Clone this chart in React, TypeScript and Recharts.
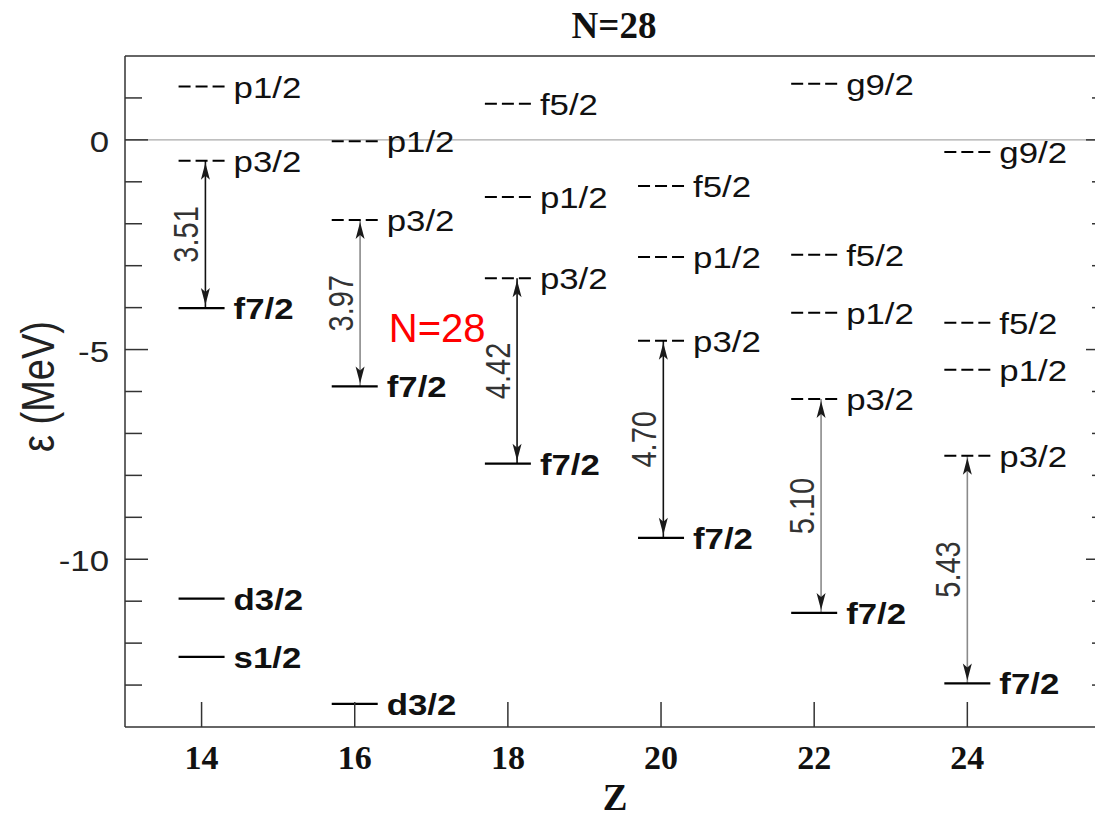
import React from "react";
import { ComposedChart, XAxis, YAxis, Scatter, ReferenceLine } from "recharts";

// single-particle neutron levels along N=28 (MeV)
const zTicks = [14, 16, 18, 20, 22, 24];
const energyTicks = [-13, -12, -11, -10, -9, -8, -7, -6, -5, -4, -3, -2, -1, 0, 1];

const z14Levels = [
  { orbit: "p1/2", e: 1.27 },
  { orbit: "p3/2", e: -0.5 },
  { orbit: "f7/2", e: -4.01 },
  { orbit: "d3/2", e: -10.94 },
  { orbit: "s1/2", e: -12.33 },
];
const z16Levels = [
  { orbit: "p1/2", e: -0.03 },
  { orbit: "p3/2", e: -1.91 },
  { orbit: "f7/2", e: -5.88 },
  { orbit: "d3/2", e: -13.45 },
];
const z18Levels = [
  { orbit: "f5/2", e: 0.86 },
  { orbit: "p1/2", e: -1.36 },
  { orbit: "p3/2", e: -3.3 },
  { orbit: "f7/2", e: -7.72 },
];
const z20Levels = [
  { orbit: "f5/2", e: -1.1 },
  { orbit: "p1/2", e: -2.79 },
  { orbit: "p3/2", e: -4.79 },
  { orbit: "f7/2", e: -9.49 },
];
const z22Levels = [
  { orbit: "g9/2", e: 1.34 },
  { orbit: "f5/2", e: -2.74 },
  { orbit: "p1/2", e: -4.12 },
  { orbit: "p3/2", e: -6.18 },
  { orbit: "f7/2", e: -11.28 },
];
const z24Levels = [
  { orbit: "g9/2", e: -0.29 },
  { orbit: "f5/2", e: -4.36 },
  { orbit: "p1/2", e: -5.48 },
  { orbit: "p3/2", e: -7.53 },
  { orbit: "f7/2", e: -12.96 },
];
const occupiedOrbits = ["f7/2", "d3/2", "s1/2"];

// p3/2 - f7/2 gaps
const gapValues = [3.51, 3.97, 4.42, 4.7, 5.1, 5.43];
const gapArrowZ = [14.05, 16.07, 18.12, 20.03, 22.09, 24.0];
const gapArrowColors = ["#111", "#8a8a8a", "#111", "#111", "#8a8a8a", "#8a8a8a"];

const annotations = [{ x: 16.445, y: -4.49, text: "N=28" }];

const nuclei = [
  { z: 14, levels: z14Levels },
  { z: 16, levels: z16Levels },
  { z: 18, levels: z18Levels },
  { z: 20, levels: z20Levels },
  { z: 22, levels: z22Levels },
  { z: 24, levels: z24Levels },
];

const levelData = nuclei.flatMap((n) =>
  n.levels.map((l) => ({ x: n.z, y: l.e, orbit: l.orbit, solid: occupiedOrbits.includes(l.orbit) }))
);

const gapData = nuclei.map((n, i) => ({
  x: gapArrowZ[i],
  top: n.levels.find((l) => l.orbit === "p3/2")!.e,
  bottom: n.levels.find((l) => l.orbit === "f7/2")!.e,
  value: gapValues[i],
  color: gapArrowColors[i],
}));
const headData = gapData.flatMap((g) => [
  { x: g.x, y: g.top, dir: "up" },
  { x: g.x, y: g.bottom, dir: "down" },
]);
const gapLabelData = gapData.map((g) => ({ x: g.x, y: (g.top + g.bottom) / 2, text: g.value.toFixed(2) }));

const SANS = "'Liberation Sans', Arial, sans-serif";
const SERIF = "'Liberation Serif', 'Times New Roman', serif";
const AXIS = "#333";
const SX = 1.2; // the source figure is stretched horizontally

function LevelMark(p: any) {
  const { cx, cy, payload } = p;
  const solid = payload.solid;
  return (
    <g>
      <line
        x1={cx - 23}
        x2={cx + 23}
        y1={cy}
        y2={cy}
        stroke="#000"
        strokeWidth={solid ? 2.2 : 2}
        strokeDasharray={solid ? undefined : "12 5"}
      />
      <text
        transform={`translate(${cx + 32},${cy + 11}) scale(${SX},1)`}
        fontFamily={SANS}
        fontSize={29}
        fontWeight={solid ? 700 : 400}
        fill="#111"
      >
        {payload.orbit}
      </text>
    </g>
  );
}

function ArrowHead(p: any) {
  const { cx, cy, payload } = p;
  const up = payload.dir === "up";
  const tip = up ? cy + 2 : cy - 3;
  const s = up ? 1 : -1;
  const d = `M${cx},${tip} L${cx - 4.5},${tip + s * 17} L${cx},${tip + s * 13} L${cx + 4.5},${tip + s * 17} Z`;
  return <path d={d} fill="#1a1a1a" />;
}

function GapLabel(p: any) {
  const { cx, cy, payload } = p;
  return (
    <text
      transform={`translate(${cx - 20},${cy}) scale(${SX},1) rotate(-90)`}
      textAnchor="middle"
      dy="0.36em"
      fontFamily={SANS}
      fontSize={29}
      fill="#333"
    >
      {payload.text}
    </text>
  );
}

function NoteText(p: any) {
  const { cx, cy, payload } = p;
  return (
    <text x={cx} y={cy + 14} fontFamily={SANS} fontSize={40} fill="#ff0000">
      {payload.text}
    </text>
  );
}

function ZTick(p: any) {
  const { x, y, payload } = p;
  return (
    <g>
      <line x1={x} x2={x} y1={y} y2={y - 25} stroke={AXIS} strokeWidth={1.5} />
      <text x={x} y={y + 42} textAnchor="middle" fontFamily={SERIF} fontWeight={700} fontSize={34} fill="#111">
        {payload.value}
      </text>
    </g>
  );
}

function ETick(p: any) {
  const { x, y, payload } = p;
  const v = payload.value;
  const major = v % 5 === 0;
  return (
    <g>
      <line x1={x} x2={x + (major ? 23 : 17)} y1={y} y2={y} stroke={AXIS} strokeWidth={1.5} />
      {major && (
        <text
          transform={`translate(${x - 16},${y + 12}) scale(${SX},1)`}
          textAnchor="end"
          fontFamily={SANS}
          fontSize={29}
          fill="#222"
        >
          {String(v)}
        </text>
      )}
    </g>
  );
}

function RightTick(p: any) {
  const { x, y, payload } = p;
  const major = payload.value % 5 === 0;
  return <line x1={x} x2={x - (major ? 23 : 17)} y1={y} y2={y} stroke={AXIS} strokeWidth={1.5} />;
}

function TitleLabel(p: any) {
  const vb = p.viewBox || { x: 125, y: 0, width: 984, height: 56 };
  return (
    <text x={vb.x + vb.width / 2 - 3} y={38} textAnchor="middle" fontFamily={SERIF} fontWeight={700} fontSize={37} fill="#111">
      N=28
    </text>
  );
}

function ZLabel(p: any) {
  const vb = p.viewBox || { x: 125, y: 727, width: 984, height: 91 };
  return (
    <text x={vb.x + vb.width / 2 - 2} y={vb.y + 83} textAnchor="middle" fontFamily={SERIF} fontWeight={700} fontSize={37} fill="#111">
      Z
    </text>
  );
}

function EnergyLabel(p: any) {
  const vb = p.viewBox || { x: 0, y: 56, width: 125, height: 671 };
  const cy = vb.y + vb.height / 2 - 5;
  return (
    <text
      transform={`translate(38,${cy}) scale(${SX},1) rotate(-90)`}
      textAnchor="middle"
      dy="0.36em"
      fontFamily={SANS}
      fontSize={38}
      fill="#222"
    >
      ε (MeV)
    </text>
  );
}

export default function App() {
  return (
    <div style={{ position: "absolute", left: 0, top: 0, width: 1095, height: 818, overflow: "hidden" }}>
      <ComposedChart width={1128} height={818} margin={{ top: 0, right: 0, bottom: 0, left: 0 }}>
        <XAxis
          xAxisId="top"
          orientation="top"
          type="number"
          domain={[13, 25.85]}
          allowDataOverflow
          height={56}
          tick={false}
          tickLine={false}
          axisLine={{ stroke: AXIS, strokeWidth: 1.5 }}
          label={TitleLabel}
        />
        <XAxis
          type="number"
          dataKey="x"
          domain={[13, 25.85]}
          allowDataOverflow
          ticks={zTicks}
          interval={0}
          height={91}
          tickSize={0}
          tickMargin={0}
          tickLine={false}
          axisLine={{ stroke: AXIS, strokeWidth: 1.5 }}
          tick={(p: any) => <ZTick {...p} />}
          label={ZLabel}
        />
        <YAxis
          type="number"
          dataKey="y"
          domain={[-14, 2]}
          allowDataOverflow
          ticks={energyTicks}
          interval={0}
          width={125}
          tickSize={0}
          tickMargin={0}
          tickLine={false}
          axisLine={{ stroke: AXIS, strokeWidth: 1.5 }}
          tick={(p: any) => <ETick {...p} />}
          label={EnergyLabel}
        />
        <YAxis
          yAxisId="right"
          orientation="right"
          type="number"
          domain={[-14, 2]}
          allowDataOverflow
          ticks={energyTicks}
          interval={0}
          width={19}
          tickSize={0}
          tickMargin={0}
          tickLine={false}
          axisLine={{ stroke: AXIS, strokeWidth: 1.5 }}
          tick={(p: any) => <RightTick {...p} />}
        />
        <ReferenceLine y={0} stroke="#aaa" strokeWidth={1.2} />
        {gapData.map((g, i) => (
          <ReferenceLine
            key={`gap-${i}`}
            segment={[
              { x: g.x, y: g.top },
              { x: g.x, y: g.bottom },
            ]}
            stroke={g.color}
            strokeWidth={1.6}
          />
        ))}
        <Scatter data={levelData} isAnimationActive={false} shape={(p: any) => <LevelMark {...p} />} />
        <Scatter data={headData} isAnimationActive={false} shape={(p: any) => <ArrowHead {...p} />} />
        <Scatter data={gapLabelData} isAnimationActive={false} shape={(p: any) => <GapLabel {...p} />} />
        <Scatter data={annotations} isAnimationActive={false} shape={(p: any) => <NoteText {...p} />} />
      </ComposedChart>
    </div>
  );
}
